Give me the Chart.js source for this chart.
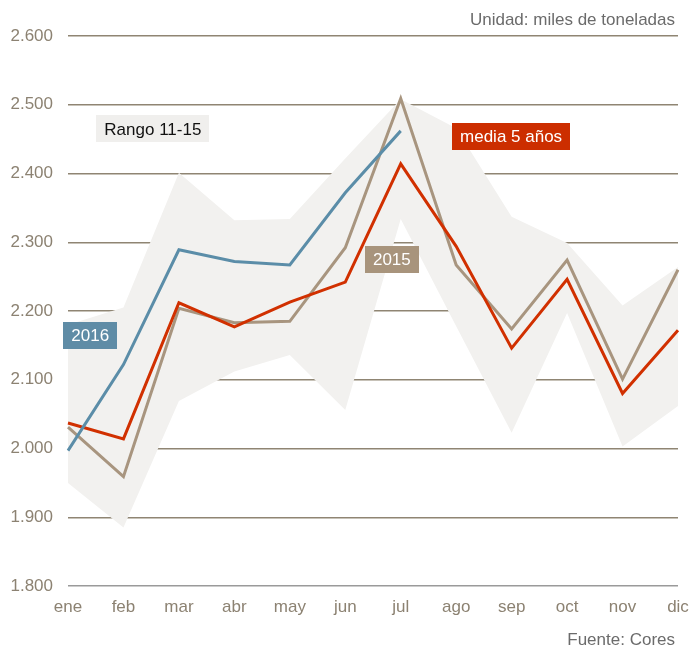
<!DOCTYPE html>
<html>
<head>
<meta charset="utf-8">
<script src="https://cdn.jsdelivr.net/npm/chart.js@4.4.1/dist/chart.umd.min.js"></script>
<style>
  html, body { margin: 0; padding: 0; background: #fff; }
  #wrap { width: 692px; height: 646px; position: relative; }
</style>
</head>
<body>
<div id="wrap"><canvas id="coresChart" width="692" height="646"></canvas></div>
<script>
// months
const months = ['ene', 'feb', 'mar', 'abr', 'may', 'jun', 'jul', 'ago', 'sep', 'oct', 'nov', 'dic'];

// range 2011-2015 (upper / lower edge)
const rangoMax = [2180, 2205, 2401, 2332, 2334, 2422, 2508, 2466, 2337, 2299, 2208, 2264];
const rangoMin = [1950, 1885, 2069, 2112, 2136, 2056, 2334, 2178, 2023, 2197, 2003, 2062];

// series
const media5 = [2037, 2014, 2212, 2177, 2213, 2242, 2414, 2294, 2146, 2246, 2080, 2172];
const serie2015 = [2031, 1959, 2204, 2183, 2185, 2292, 2509, 2267, 2174, 2274, 2101, 2260];
const serie2016 = [1997, 2122, 2289, 2272, 2267, 2372, 2462, null, null, null, null, null];

// y ticks
const yTicks = [1800, 1900, 2000, 2100, 2200, 2300, 2400, 2500, 2600];

const FONT = "Arial, 'Liberation Sans', sans-serif";

function fmt(v) {
    return Math.floor(v / 1000) + '.' + String(v % 1000).padStart(3, '0');
}

// boxes with series names, anchored in data coords
const tags = [
    { text: 'Rango 11-15', idx: 1.53, value: 2465, bg: '#f0efed', color: '#111' },
    { text: '2016', idx: 0.40, value: 2164, bg: '#5f8ca6', color: '#fff' },
    { text: 'media 5 años', idx: 7.99, value: 2454, bg: '#cc2e00', color: '#fff' },
    { text: '2015', idx: 5.84, value: 2275, bg: '#a8947c', color: '#fff' }
];

const tagPlugin = {
    id: 'tags',
    afterDatasetsDraw(chart) {
        const ctx = chart.ctx;
        const xs = chart.scales.x, ys = chart.scales.y;
        ctx.save();
        ctx.font = '17px ' + FONT;
        ctx.textBaseline = 'middle';
        ctx.textAlign = 'center';
        tags.forEach(t => {
            const cx = xs.getPixelForValue(t.idx);
            const cy = ys.getPixelForValue(t.value);
            const w = ctx.measureText(t.text).width + 16;
            const h = 27;
            ctx.fillStyle = t.bg;
            ctx.fillRect(Math.round(cx - w / 2), Math.round(cy - h / 2), Math.round(w), h);
            ctx.fillStyle = t.color;
            ctx.fillText(t.text, cx, cy + 1);
        });
        // unit and source
        ctx.textAlign = 'right';
        ctx.fillStyle = '#6b6b6b';
        ctx.fillText('Unidad: miles de toneladas', 675, 20);
        ctx.fillText('Fuente: Cores', 675, 640);
        ctx.restore();
    }
};

const ctx = document.getElementById('coresChart').getContext('2d');
new Chart(ctx, {
    type: 'line',
    data: {
        labels: months,
        datasets: [
            {
                label: '2016',
                data: serie2016,
                borderColor: '#5b8da8',
                borderWidth: 3,
                fill: false
            },
            {
                label: 'media 5 años',
                data: media5,
                borderColor: '#d13000',
                borderWidth: 3,
                fill: false
            },
            {
                label: '2015',
                data: serie2015,
                borderColor: '#a8957f',
                borderWidth: 3,
                fill: false
            },
            {
                label: 'max',
                data: rangoMax,
                borderWidth: 0,
                borderColor: 'rgba(0,0,0,0)',
                backgroundColor: '#f2f1ef',
                fill: '+1'
            },
            {
                label: 'min',
                data: rangoMin,
                borderWidth: 0,
                borderColor: 'rgba(0,0,0,0)',
                fill: false
            }
        ]
    },
    options: {
        responsive: false,
        animation: false,
        layout: { autoPadding: false, padding: { top: 36, right: 14, left: 0, bottom: 0 } },
        elements: {
            point: { radius: 0, hoverRadius: 0 },
            line: { tension: 0, borderJoinStyle: 'miter', borderCapStyle: 'butt' }
        },
        scales: {
            x: {
                offset: false,
                grid: { display: false, drawTicks: false },
                border: { display: false },
                ticks: {
                    color: '#8c8272',
                    font: { family: FONT, size: 17 },
                    padding: 11,
                    maxRotation: 0,
                    autoSkip: false
                },
                afterFit(scale) {
                    scale.height = 60;
                    scale.paddingLeft = 0;
                    scale.paddingRight = 0;
                }
            },
            y: {
                min: 1800,
                max: 2600,
                afterBuildTicks(scale) { scale.ticks = yTicks.map(v => ({ value: v })); },
                grid: {
                    drawTicks: false,
                    lineWidth: 1.5,
                    color: c => c.tick && c.tick.value === 1800 ? '#9a9a9a' : '#8f8573'
                },
                border: { display: false },
                ticks: {
                    color: '#8c8272',
                    font: { family: FONT, size: 17 },
                    padding: 15,
                    callback: v => fmt(v)
                },
                afterFit(scale) {
                    scale.width = 68;
                    scale.paddingTop = 0;
                    scale.paddingBottom = 0;
                }
            }
        },
        plugins: {
            legend: { display: false },
            tooltip: { enabled: false }
        }
    },
    plugins: [tagPlugin]
});
</script>
</body>
</html>
